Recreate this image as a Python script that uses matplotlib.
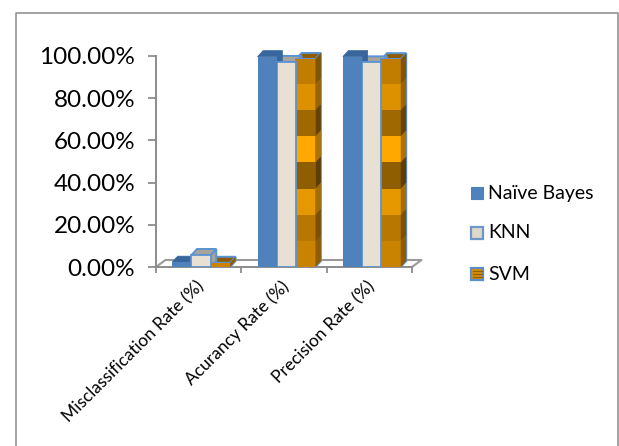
import matplotlib
matplotlib.use("Agg")
import matplotlib.pyplot as plt
from matplotlib.lines import Line2D
from matplotlib.patches import Polygon, Rectangle

categories = ["Misclassification Rate (%)", "Acurancy Rate (%)", "Precision Rate (%)"]
series_names = ["Naïve Bayes", "KNN", "SVM"]
naive_bayes = [2.3, 99.7, 99.7]
knn = [5.7, 97.2, 97.0]
svm = [2.0, 98.6, 98.5]
y_ticks = [0, 20, 40, 60, 80, 100]
y_labels = ["0.00%", "20.00%", "40.00%", "60.00%", "80.00%", "100.00%"]

W, H = 619, 446
plt.rcParams["font.family"] = ["Lato", "DejaVu Sans"]
fig = plt.figure(figsize=(W / 100, H / 100), dpi=100, facecolor="white")

def fx(x):
    return x / W

def fy(y):
    return 1 - y / H

fig.add_artist(Line2D([fx(15.5), fx(15.5), fx(618), fx(618)], [0, fy(12.5), fy(12.5), 0],
                      color="#8a8a8a", lw=1.1, transform=fig.transFigure))

ax = fig.add_axes([fx(156), fy(267), 256 / W, 211 / H])
ax.set_xlim(0, 3)
ax.set_ylim(0, 100)
ax.patch.set_alpha(0)
for s in ["top", "right"]:
    ax.spines[s].set_visible(False)
for s in ["left", "bottom"]:
    ax.spines[s].set_color("#8c8c8c")
    ax.spines[s].set_linewidth(1.4)
ax.set_yticks(y_ticks)
ax.set_yticklabels(y_labels, fontsize=17.5, color="black")
ax.set_xticks([0, 1, 2, 3])
ax.set_xticklabels([])
ax.tick_params(axis="y", color="#8c8c8c", width=1.3, length=6, pad=9)
ax.tick_params(axis="x", color="#8c8c8c", width=1.3, length=4)

# depth of the 3D boxes, in axis units
DX = 5.5 / (256 / 3)
DY = 6 * 100 / 211
FLOOR_DX = 9.5 / (256 / 3)
FLOOR_DY = 7 * 100 / 211
fc = "#9a9a9a"
ax.plot([0, FLOOR_DX, 3 + FLOOR_DX, 3], [0, FLOOR_DY, FLOOR_DY, 0], color=fc, lw=1.5,
        clip_on=False, zorder=1)

bar_w = 0.226
start = 0.19
blue, blue_top = "#4f81bd", "#38669c"
edge = "#5b93d3"
stripe_colors = ["#c98300", "#b87700", "#e69800", "#8f5e00", "#ffa800", "#a06800", "#dd9000", "#c17d00"]
side_colors = ["#8f5d00", "#7c5000", "#a56d00", "#5e3d00", "#ad7200", "#684300", "#9a6500", "#835400"]
band_value = 12.4
z = 3

def side_top(x0, w, h, top, side, ec, lw):
    ax.add_patch(Polygon([(x0 + w, 0), (x0 + w + DX, DY), (x0 + w + DX, h + DY), (x0 + w, h)],
                         fc=side, ec=ec, lw=lw, zorder=z, clip_on=False))
    ax.add_patch(Polygon([(x0, h), (x0 + DX, h + DY), (x0 + w + DX, h + DY), (x0 + w, h)],
                         fc=top, ec=ec, lw=lw, zorder=z, clip_on=False))

for i in range(3):
    x0 = i + start
    side_top(x0 + 2 * bar_w, bar_w, svm[i], "#8f5d00", "#8f5d00", edge, 1.4)
    ax.bar(x0 + 2 * bar_w, svm[i], bar_w, align="edge", color="none", edgecolor=edge, lw=1.4, zorder=z + .2)
    b = 0
    for c, sc in zip(stripe_colors, side_colors):
        if b >= svm[i]:
            break
        h = min(band_value, svm[i] - b)
        ax.bar(x0 + 2 * bar_w, h, bar_w, bottom=b, align="edge", color=c, lw=0, zorder=z + .3)
        xr = x0 + 3 * bar_w
        ax.add_patch(Polygon([(xr, b), (xr + DX, b + DY), (xr + DX, b + h + DY), (xr, b + h)],
                             fc=sc, lw=0, zorder=z + .3, clip_on=False))
        b += band_value
    side_top(x0 + bar_w, bar_w, knn[i], "#a8a49c", "#a8a49c", edge, 1.4)
    ax.bar(x0 + bar_w, knn[i], bar_w, align="edge", color="#e8e0d3", edgecolor=edge, lw=1.3, zorder=z + .4)
    side_top(x0, bar_w, naive_bayes[i], blue_top, blue_top, blue_top, 0.5)
    ax.bar(x0, naive_bayes[i], bar_w, align="edge", color=blue, lw=0, zorder=z + .5)

# category labels
for xv, t in zip([0.5, 1.5, 2.5], categories):
    ax.annotate(t, xy=(xv, 0), xycoords=ax.get_xaxis_transform(), xytext=(2, -12),
                textcoords="offset points", rotation=45, rotation_mode="anchor",
                ha="right", va="center", fontsize=12.5, color="black")

# legend
entries = [(193, blue, blue, None), (233, "#ded8cc", "#6d97c9", None), (274, "#d98f00", "#5b8fc7", "#8f5e00")]
for (yy, fc_, ec_, st), name in zip(entries, series_names):
    fig.add_artist(Rectangle((fx(471), fy(yy + 6)), 12 / W, 12 / H, transform=fig.transFigure,
                             fc=fc_, ec=ec_, lw=1.6 if ec_ != fc_ else 0.8, zorder=5))
    if st:
        for dy in (-3, 0, 3):
            fig.add_artist(Line2D([fx(472.5), fx(481.5)], [fy(yy + dy)] * 2, color=st, lw=0.9,
                                  transform=fig.transFigure, zorder=6))
    fig.text(fx(488), fy(yy), name, fontsize=14, va="center", ha="left", color="black", zorder=6)

fig.savefig("out.png", dpi=100)
